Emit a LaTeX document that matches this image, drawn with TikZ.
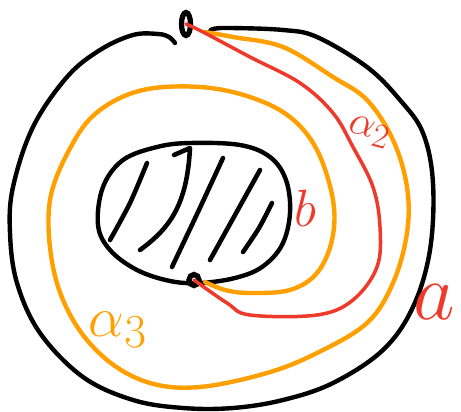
\documentclass[tikz,border=0pt]{standalone}
\definecolor{bound}{HTML}{000000}
\definecolor{arcorange}{HTML}{FFA000}
\definecolor{arcred}{HTML}{EE3A2A}

\begin{document}
\begin{tikzpicture}[x=0.02cm, y=-0.02cm,
    curve/.style={line width=2.5pt, line cap=round, line join=round},
    hatch/.style={curve, line width=2.6pt},
    marker/.style={draw=bound, line width=3pt},
    lbl/.style={inner sep=0pt, font=\Huge, transform shape}]
  \useasboundingbox (0,0) rectangle (461,412);

  % Base points on the two boundary curves
  \coordinate (p) at (186,24);
  \coordinate (q) at (194,280);

  % Outer boundary a (with a gap at p)
  \draw[curve, draw=bound] plot[smooth, tension=0.6] coordinates {
    (175,43) (169,37) (158,34) (133,35) (100,50) (67,77) (33,127) (13,187)
    (10,233) (17,283) (40,333) (83,377) (133,400) (183,408) (233,408)
    (283,400) (333,383) (383,350) (413,307) (430,250) (433,183) (423,133)
    (400,100) (367,67) (317,37) (283,30) (230,28) (213,29) (210,32)};

  % Inner boundary b, hatched
  \draw[curve, draw=bound] plot[smooth cycle, tension=0.6] coordinates {
    (190,143) (157,147) (123,160) (103,187) (98,225) (110,250) (137,270)
    (170,281) (200,283) (235,278) (262,267) (282,245) (290,213) (286,180)
    (270,157) (240,145)};
  \foreach \xa/\ya/\xb/\yb/\xc/\yc in {
    147/163/130/203/110/240,
    223/158/198/212/172/267,
    260/170/235/215/210/260,
    272/203/259/228/243/252
  } {
    \draw[hatch, draw=bound] plot[smooth] coordinates {(\xa,\ya) (\xb,\yb) (\xc,\yc)};
  }
  \draw[hatch, draw=bound] (174,155) -- (190,148)
    .. controls (187,205) and (170,228) .. (140,250);

  % Marked points
  \draw[marker] (p) ellipse (4.5 and 11.5);
  \draw[marker] (q) ellipse (5 and 5.5);

  % Arc alpha_3
  \draw[curve, draw=arcorange] plot[smooth, tension=0.6] coordinates {
    (205,32) (233,37) (283,47) (333,77) (367,100) (393,140) (407,187)
    (407,233) (393,283) (367,323) (317,353) (267,373) (200,387) (150,383)
    (107,360) (73,320) (53,267) (50,200) (73,143) (100,110) (143,90)
    (200,87) (250,97) (290,117) (317,150) (333,200) (332,240) (317,273)
    (290,290) (250,293) (225,290) (205,282)};

  % Arc alpha_2
  \draw[curve, line width=2pt, draw=arcred] plot[smooth, tension=0.6] coordinates {
    (p) (203,32) (250,57) (300,83) (333,113) (353,147) (373,187) (380,227)
    (377,267) (353,300) (317,315) (250,315) (227,303) (q)};

  % Labels
  \node[lbl, text=arcred, scale=1.2] (lb) at (305,208) {$b$};
  \node[lbl, text=arcred, scale=1.85] (la) at (434,302) {$a$};
  \node[lbl, text=arcred, scale=0.95, rotate=-15] (lal2) at (369,132) {$\alpha_2$};
  \node[lbl, text=arcorange, scale=1.3] (lal3) at (118,330) {$\alpha_3$};
\end{tikzpicture}
\end{document}
